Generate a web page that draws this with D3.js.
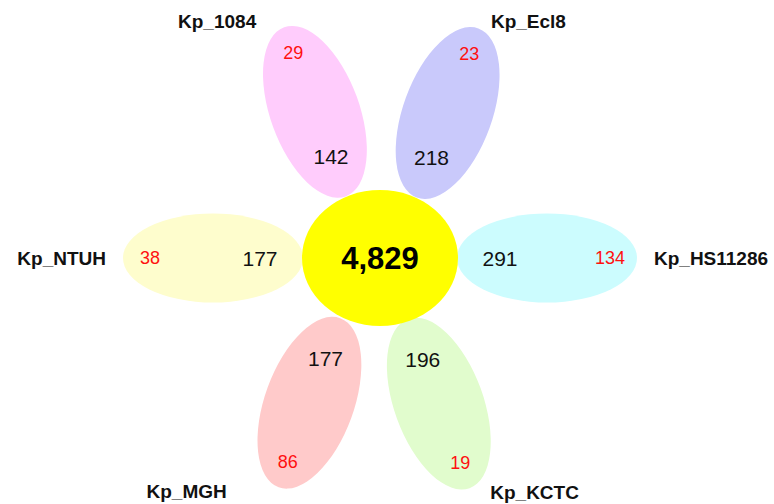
<!DOCTYPE html>
<html>
<head>
<meta charset="utf-8">
<script src="https://cdn.jsdelivr.net/npm/d3@7/dist/d3.min.js"></script>
<style>
  html, body { margin: 0; padding: 0; background: #fff; }
  svg { display: block; font-family: "Liberation Sans", Arial, sans-serif; }
</style>
</head>
<body>
<svg id="chart" width="774" height="504"></svg>
<script>
// ---- data ----
const sets = ["Kp_1084", "Kp_Ecl8", "Kp_HS11286", "Kp_KCTC", "Kp_MGH", "Kp_NTUH"];
const uniqueGenes = [29, 23, 134, 19, 86, 38];
const sharedGenes = [142, 218, 291, 196, 177, 177];
const coreGenes = 4829;

// ---- style / layout ----
const petalColors = ["#ffccfc", "#c9c9fb", "#ccfcfe", "#e1fccd", "#ffcaca", "#fefdcd"];
const petalAngle = [-24, 25, 90, 158, 206, 270];   // direction of petal centre from core (deg, clockwise from up)
const petalDist  = [160, 160, 167, 157, 161, 167];
const petalTilt  = [-20, 20, 90, 160, 200, 270];   // rotation of petal major axis
const labelOffset = [[-67, -6], [50, -7], [17, 0], [65, 4], [-92, 4], [-17, 0]];
const labelAnchor = ["middle", "middle", "start", "middle", "middle", "end"];

const W = 774, H = 504;
const core = { x: 380, y: 258, rx: 78, ry: 68 };
const petalA = 90, petalB = 44.5;
const innerT = -47, outerT = 63;

const svg = d3.select("#chart");
const rad = d => d * Math.PI / 180;

const petals = sets.map((name, i) => {
  const a = rad(petalAngle[i]);
  const cx = core.x + petalDist[i] * Math.sin(a);
  const cy = core.y - petalDist[i] * Math.cos(a);
  const t = rad(petalTilt[i]);
  const ux = Math.sin(t), uy = -Math.cos(t);
  return {
    name, cx, cy, tilt: petalTilt[i], ux, uy,
    unique: uniqueGenes[i], shared: sharedGenes[i], color: petalColors[i],
    tipX: cx + petalA * ux, tipY: cy + petalA * uy,
    off: labelOffset[i], anchor: labelAnchor[i]
  };
});

const fmt = d3.format(",");

// petals
svg.append("g").selectAll("ellipse")
  .data(petals).join("ellipse")
  .attr("transform", d => `translate(${d.cx},${d.cy}) rotate(${d.tilt})`)
  .attr("rx", petalB).attr("ry", petalA)
  .attr("fill", d => d.color);

// core
svg.append("ellipse")
  .attr("cx", core.x).attr("cy", core.y)
  .attr("rx", core.rx).attr("ry", core.ry)
  .attr("fill", "#ffff00");

svg.append("text")
  .attr("x", core.x).attr("y", core.y)
  .attr("dy", "0.36em")
  .attr("text-anchor", "middle")
  .attr("font-weight", "bold")
  .attr("font-size", 31)
  .attr("fill", "#000")
  .text(fmt(coreGenes));

// shared counts (inner)
svg.append("g").selectAll("text")
  .data(petals).join("text")
  .attr("x", d => d.cx + innerT * d.ux)
  .attr("y", d => d.cy + innerT * d.uy)
  .attr("dy", "0.36em")
  .attr("text-anchor", "middle")
  .attr("font-size", 21)
  .attr("fill", "#111")
  .text(d => d.shared);

// unique counts (outer)
svg.append("g").selectAll("text")
  .data(petals).join("text")
  .attr("x", d => d.cx + outerT * d.ux)
  .attr("y", d => d.cy + outerT * d.uy)
  .attr("dy", "0.36em")
  .attr("text-anchor", "middle")
  .attr("font-size", 18)
  .attr("fill", "#ff1010")
  .text(d => d.unique);

// set names
svg.append("g").selectAll("text")
  .data(petals).join("text")
  .attr("x", d => d.tipX + d.off[0])
  .attr("y", d => d.tipY + d.off[1])
  .attr("dy", "0.36em")
  .attr("text-anchor", d => d.anchor)
  .attr("font-weight", "bold")
  .attr("font-size", 19)
  .attr("fill", "#111")
  .text(d => d.name);
</script>
</body>
</html>
